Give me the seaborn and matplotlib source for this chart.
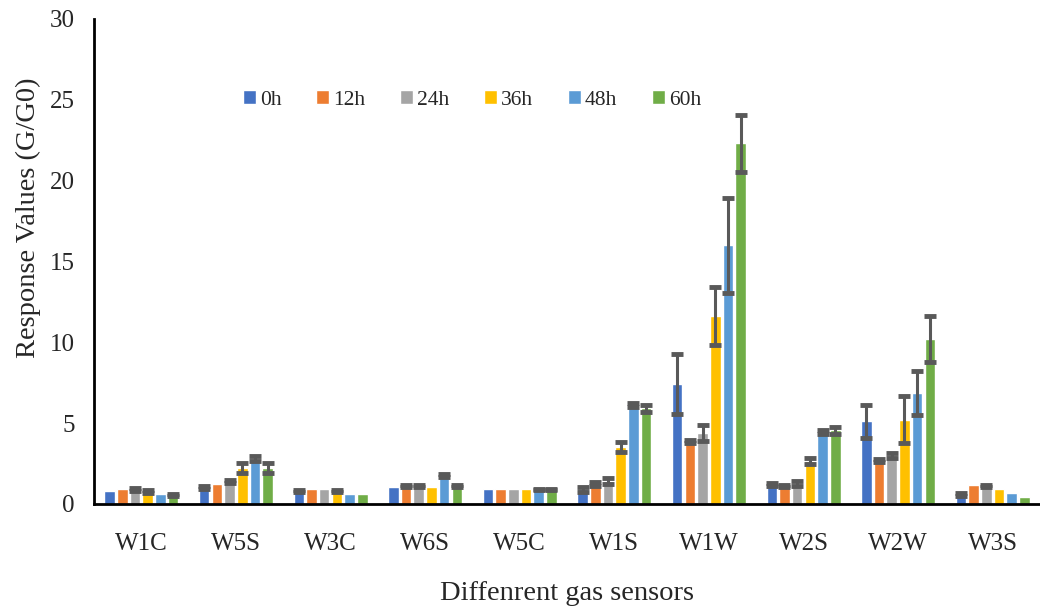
import numpy as np
import pandas as pd
import matplotlib
matplotlib.use("Agg")
import matplotlib.pyplot as plt
import seaborn as sns

# data
sensors = ["W1C", "W5S", "W3C", "W6S", "W5C", "W1S", "W1W", "W2S", "W2W", "W3S"]
hours = ["0h", "12h", "24h", "36h", "48h", "60h"]

v0h = [0.8, 1.0, 0.8, 1.05, 0.95, 0.9, 7.4, 1.2, 5.1, 0.6]
v12h = [0.9, 1.25, 0.9, 1.1, 0.95, 1.25, 3.85, 1.1, 2.7, 1.15]
v24h = [0.9, 1.4, 0.9, 1.1, 0.95, 1.4, 4.4, 1.25, 3.0, 1.1]
v36h = [0.75, 2.2, 0.8, 1.05, 0.95, 3.5, 11.6, 2.65, 5.2, 0.95]
v48h = [0.6, 2.8, 0.6, 1.75, 0.9, 6.1, 16.0, 4.45, 6.85, 0.7]
v60h = [0.55, 2.2, 0.6, 1.1, 0.9, 5.9, 22.3, 4.55, 10.2, 0.4]

# standard errors (nan = no visible error bar)
n = np.nan
e0h = [n, 0.08, 0.08, n, n, 0.15, 1.85, 0.1, 1.0, 0.1]
e12h = [n, n, n, 0.05, n, 0.12, 0.08, 0.08, 0.08, n]
e24h = [0.08, 0.08, n, 0.05, n, 0.2, 0.5, 0.15, 0.15, 0.08]
e36h = [0.08, 0.3, 0.08, n, n, 0.3, 1.8, 0.2, 1.45, n]
e48h = [n, 0.15, n, 0.08, 0.05, 0.12, 2.95, 0.1, 1.35, n]
e60h = [0.08, 0.3, n, 0.08, 0.05, 0.2, 1.75, 0.2, 1.45, n]

colors = ["#4472C4", "#ED7D31", "#A5A5A5", "#FFC000", "#5B9BD5", "#70AD47"]

values = [v0h, v12h, v24h, v36h, v48h, v60h]
errors = [e0h, e12h, e24h, e36h, e48h, e60h]

df = pd.DataFrame({
    "sensor": np.tile(sensors, len(hours)),
    "time": np.repeat(hours, len(sensors)),
    "value": np.concatenate(values),
})

sns.set_style("white")
plt.rcParams["font.family"] = ["Liberation Serif", "DejaVu Serif"]

fig = plt.figure(figsize=(10.4, 6.1), dpi=100)
ax = fig.add_axes([0.0904, 0.174, 0.9096, 0.795])

sns.barplot(data=df, x="sensor", y="value", hue="time", order=sensors,
            hue_order=hours, palette=colors, width=0.805, gap=0.17,
            errorbar=None, saturation=1, ax=ax)

# custom error bars on top of each bar
for cont, errs in zip(ax.containers, errors):
    xs = [p.get_x() + p.get_width() / 2 for p in cont.patches]
    ys = [p.get_height() for p in cont.patches]
    ax.errorbar(xs, ys, yerr=errs, fmt="none", ecolor="#595959",
                elinewidth=2.2, capsize=4.6, capthick=3.5, zorder=3)

ax.set_ylim(0, 30)
ax.set_xlim(-0.5, len(sensors) - 0.5)
ax.set_yticks(range(0, 31, 5))
ax.set_xticks(range(len(sensors)))
ax.set_xticklabels(sensors)
ax.set_xticks(np.arange(0.5, len(sensors) - 0.5, 1), minor=True)
ax.tick_params(axis="x", which="major", length=0, labelsize=18, pad=21)
ax.tick_params(axis="x", which="minor", direction="in", length=7, width=2, color="black")
ax.tick_params(axis="y", direction="in", length=7, width=2, color="black", labelsize=18, pad=14)

for side in ["top", "right"]:
    ax.spines[side].set_visible(False)
for side in ["left", "bottom"]:
    ax.spines[side].set_color("black")
    ax.spines[side].set_linewidth(2)

ax.set_xlabel("Diffenrent gas sensors", fontsize=20.5, labelpad=19)
ax.set_ylabel("Response Values (G/G0)", fontsize=20.5)
ax.yaxis.set_label_coords(-0.056, 0.59)

ax.legend(loc="upper left", bbox_to_anchor=(0.137, 0.893), ncol=6, frameon=False,
          fontsize=15.5, handlelength=0.6, handleheight=0.6, handletextpad=0.2,
          columnspacing=1.6, title=None)

fig.savefig("out.png", dpi=100)
